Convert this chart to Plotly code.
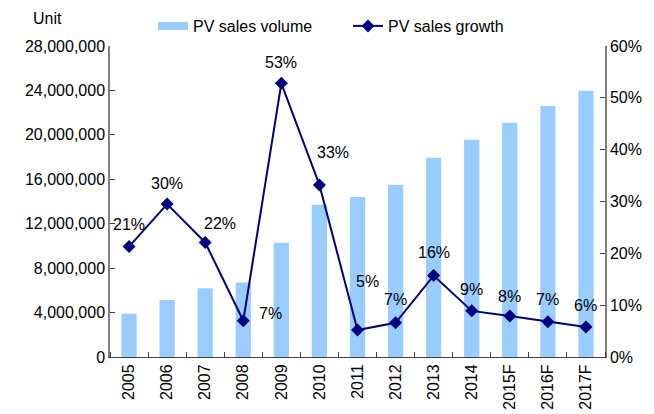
import plotly.graph_objects as go

years = ["2005", "2006", "2007", "2008", "2009", "2010", "2011", "2012", "2013",
         "2014", "2015F", "2016F", "2017F"]
volume = [3900000, 5130000, 6200000, 6700000, 10280000, 13700000, 14400000,
          15500000, 17930000, 19550000, 21100000, 22600000, 23960000]
growth = [0.213, 0.295, 0.221, 0.070, 0.528, 0.332, 0.052, 0.066, 0.157,
          0.089, 0.079, 0.068, 0.058]
growth_labels = ["21%", "30%", "22%", "7%", "53%", "33%", "5%", "7%", "16%",
                 "9%", "8%", "7%", "6%"]
left_ticks = [0, 4000000, 8000000, 12000000, 16000000, 20000000, 24000000, 28000000]
left_tick_text = ["0", "4,000,000", "8,000,000", "12,000,000", "16,000,000",
                  "20,000,000", "24,000,000", "28,000,000"]
right_ticks = [0, 0.1, 0.2, 0.3, 0.4, 0.5, 0.6]
right_tick_text = ["0%", "10%", "20%", "30%", "40%", "50%", "60%"]

# label offsets (pixels) for each growth label
label_dx = [0, 0, 15, 27, 0, 14, 10, 0, 0, 0, 0, 0, 0]
label_dy = [22, 21, 19, 7, 21, 32, 49, 23, 23, 21, 20, 22, 21]

FONT = "Liberation Sans, Arial, sans-serif"
FS = 16
BAR_COLOR = "#99CCFF"
LINE_COLOR = "#000080"
pos = list(range(len(years)))
boundaries = [p - 0.5 for p in pos] + [pos[-1] + 0.5]

# page body has an 8px margin; figure sized to fill the remaining window
W, H = 646, 406
ML, MR, MT, MB = 102, 49, 38, 57

fig = go.Figure()
fig.add_trace(go.Bar(x=pos, y=volume, name="PV sales volume", showlegend=False,
                     marker=dict(color=BAR_COLOR, line=dict(width=0)), width=0.4))
# legend proxy for the bars (wide flat swatch like the original)
fig.add_trace(go.Scatter(x=[None], y=[None], name="PV sales volume", mode="lines",
                         line=dict(color=BAR_COLOR, width=8), legend="legend",
                         hoverinfo="skip"))
fig.add_trace(go.Scatter(x=pos, y=growth, name="PV sales growth", yaxis="y2",
                         mode="lines+markers", legend="legend2",
                         line=dict(color=LINE_COLOR, width=2),
                         marker=dict(symbol="diamond", size=10, color=LINE_COLOR)))

for p, g, t, dx, dy in zip(pos, growth, growth_labels, label_dx, label_dy):
    fig.add_annotation(x=p, y=g, xref="x", yref="y2", text=t, showarrow=False,
                       xshift=dx, yshift=dy, font=dict(size=FS, color="#000000", family=FONT))

plot_w = W - ML - MR
plot_h = H - MT - MB
fig.add_annotation(x=(39 - ML) / plot_w, y=(H - MB - 10) / plot_h,
                   xref="paper", yref="paper", text="Unit", showarrow=False,
                   xanchor="center", yanchor="middle",
                   font=dict(size=FS, color="#000000", family=FONT))

legend_common = dict(orientation="h", xref="container", yref="container",
                     xanchor="left", y=1 - 18 / H, yanchor="middle",
                     font=dict(size=FS, family=FONT, color="#000000"),
                     bgcolor="rgba(0,0,0,0)")

fig.update_layout(
    width=W, height=H,
    margin=dict(l=ML, r=MR, t=MT, b=MB, autoexpand=False),
    paper_bgcolor="white", plot_bgcolor="white",
    font=dict(family=FONT, size=FS, color="#000000"),
    showlegend=True,
    legend=dict(x=145 / W, **legend_common),
    legend2=dict(x=340 / W, **legend_common),
    xaxis=dict(range=[-0.5, len(years) - 0.5], tickvals=pos, ticktext=years,
               tickangle=-90, showline=True, linecolor="#404040",
               linewidth=1, ticks="", showgrid=False, zeroline=False,
               automargin=False, tickfont=dict(size=FS),
               minor=dict(tickvals=boundaries, ticks="inside", ticklen=5,
                          tickcolor="#404040", showgrid=False)),
    yaxis=dict(range=[0, 28000000], tickvals=left_ticks, ticktext=left_tick_text,
               showline=True, linecolor="#808080", linewidth=1.5, ticks="inside",
               ticklen=5, tickcolor="#404040", showgrid=False, zeroline=False,
               automargin=False, tickfont=dict(size=FS)),
    yaxis2=dict(range=[0, 0.6], tickvals=right_ticks, ticktext=right_tick_text,
                overlaying="y", side="right", showline=True, linecolor="#808080",
                linewidth=1.5, ticks="inside", ticklen=5, tickcolor="#404040",
                showgrid=False, zeroline=False, automargin=False,
                tickfont=dict(size=FS)),
)
fig.write_html("out.html")
